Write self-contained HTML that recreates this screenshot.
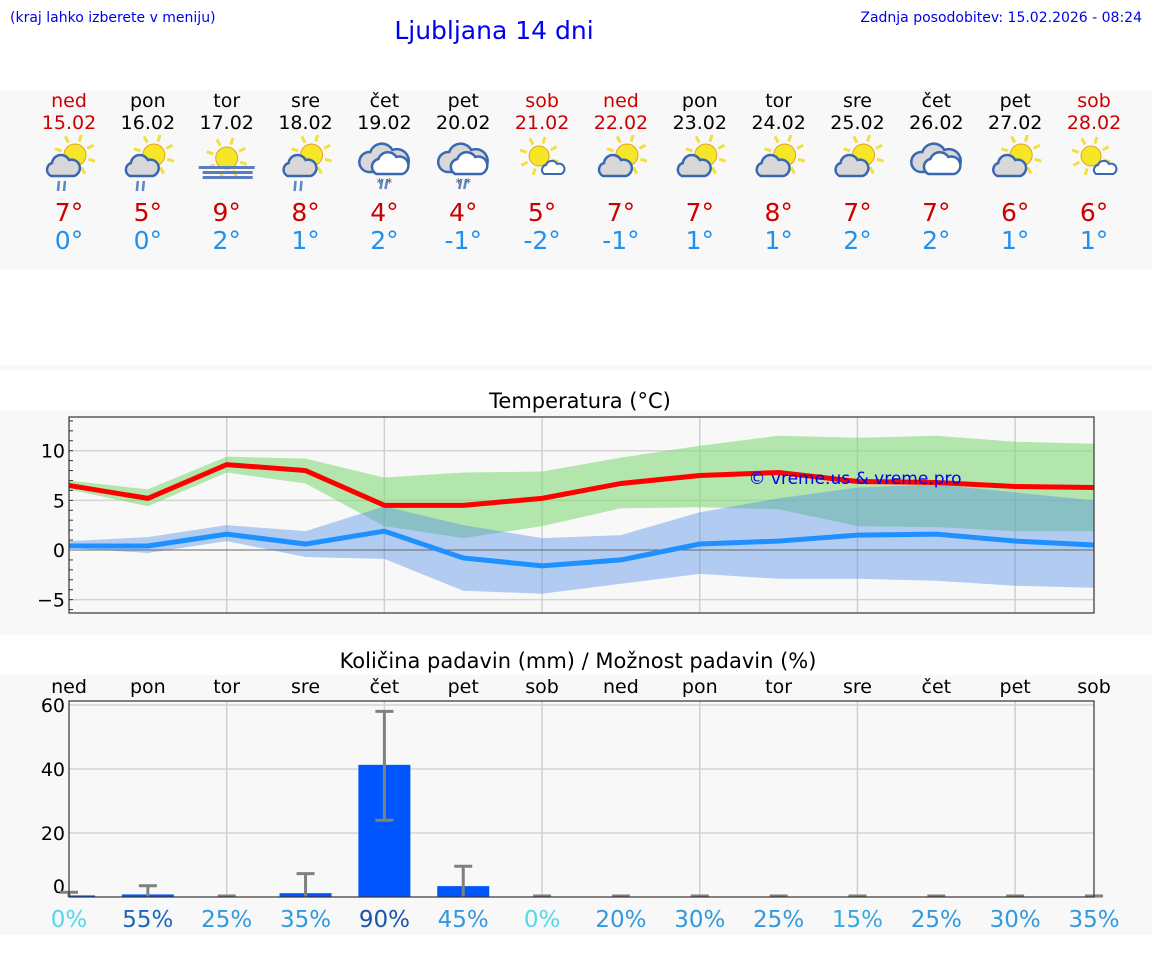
<!DOCTYPE html>
<html><head><meta charset="utf-8"><style>
body{margin:0;background:#fff;width:1152px;height:975px;overflow:hidden;font-family:"Liberation Sans","DejaVu Sans",sans-serif}
svg{display:block}
</style></head><body>
<svg id="s" width="1152" height="975" xmlns="http://www.w3.org/2000/svg" font-family="DejaVu Sans, Liberation Sans, sans-serif">
<text x="10" y="22" font-size="14" fill="#0000ee">(kraj lahko izberete v meniju)</text>
<text x="494" y="39" font-size="25" fill="#0000ee" text-anchor="middle">Ljubljana 14 dni</text>
<text x="1142" y="22" font-size="14" fill="#0000ee" text-anchor="end">Zadnja posodobitev: 15.02.2026 - 08:24</text>
<rect x="0" y="90" width="1152" height="180" fill="#f8f8f8"/>
<rect x="0" y="365" width="1152" height="5" fill="#f8f8f8"/>
<rect x="0" y="410" width="1152" height="225" fill="#f8f8f8"/>
<rect x="0" y="675" width="1152" height="260" fill="#f8f8f8"/>
<text x="580" y="408" font-size="21" text-anchor="middle">Temperatura (°C)</text>
<text x="578" y="668" font-size="21" text-anchor="middle">Količina padavin (mm) / Možnost padavin (%)</text>
<g id="days"></g><g id="temp"></g><g id="prec"></g>
</svg>
<script>
const dayNames=["ned","pon","tor","sre","čet","pet","sob","ned","pon","tor","sre","čet","pet","sob"];
const dates=["15.02","16.02","17.02","18.02","19.02","20.02","21.02","22.02","23.02","24.02","25.02","26.02","27.02","28.02"];
const icons=["rain","rain","fog","rain","snow","snow","sun2","sun","sun","sun","sun","cloud","sun","sun2"];
const hiLabels=[7,5,9,8,4,4,5,7,7,8,7,7,6,6];
const loLabels=[0,0,2,1,2,-1,-2,-1,1,1,2,2,1,1];
const tMax=[6.5,5.2,8.6,8.0,4.5,4.5,5.2,6.7,7.5,7.8,6.9,6.8,6.4,6.3];
const tMaxHi=[7.0,6.1,9.4,9.2,7.3,7.8,7.9,9.3,10.5,11.5,11.3,11.5,10.9,10.7];
const tMaxLo=[6.1,4.4,7.8,6.7,2.4,1.2,2.4,4.2,4.3,4.1,2.4,2.3,1.9,1.9];
const tMin=[0.4,0.4,1.6,0.6,1.9,-0.8,-1.6,-1.0,0.6,0.9,1.5,1.6,0.9,0.5];
const tMinHi=[0.9,1.3,2.5,1.9,4.4,2.5,1.2,1.5,3.8,5.2,6.3,6.6,5.8,5.0];
const tMinLo=[0.2,-0.3,0.9,-0.7,-0.9,-4.1,-4.4,-3.4,-2.4,-2.9,-2.9,-3.1,-3.6,-3.8];
const tTicks=[-5,0,5,10];
const precip=[0.5,0.8,0,1.2,41.3,3.4,0,0,0,0,0,0,0,0];
const precErrHi=[1.5,3.5,0,7.3,58,9.6,0,0,0,0,0,0,0,0];
const precErrLo=[0,0,0,0,24,0,0,0,0,0,0,0,0,0];
const pTicks=[0,20,40,60];
const chance=[0,55,25,35,90,45,0,20,30,25,15,25,30,35];

const NS="http://www.w3.org/2000/svg";
function mk(p,t,a){const e=document.createElementNS(NS,t);for(const k in a)e.setAttribute(k,a[k]);p.appendChild(e);return e;}
const X0=69,X1=1094;
const xs=i=>X0+i*(X1-X0)/13;
const ty=v=>550-v*9.93;
const py=v=>897-v*3.2;
const red=i=>(i==0||i==6||i==7||i==13);

const gd=document.getElementById('days');
dayNames.forEach((d,i)=>{
  const cx=69+i*78.85;
  let t=mk(gd,'text',{x:cx,y:107,'font-size':19,'text-anchor':'middle',fill:red(i)?'#cc0000':'#000'});t.textContent=d;
  
  t=mk(gd,'text',{x:cx,y:129,'font-size':19,'text-anchor':'middle',fill:red(i)?'#cc0000':'#000'});t.textContent=dates[i];
  
  const g=mk(gd,'g',{transform:`translate(${cx},160)`});
  
  const ic=icons[i];
  const sun=(sx,sy,r)=>{for(let k=0;k<8;k++){const a=k*Math.PI/4+0.3;mk(g,'line',{x1:sx+Math.cos(a)*(r+3),y1:sy+Math.sin(a)*(r+3),x2:sx+Math.cos(a)*(r+10),y2:sy+Math.sin(a)*(r+10),stroke:'#f0e040','stroke-width':3});}mk(g,'circle',{cx:sx,cy:sy,r:r,fill:'#f5e628',stroke:'#e8a020','stroke-width':1});};
  const cloud=()=>{mk(g,'path',{d:'M-18,16 a7 7 0 0 1 1,-13 a9 9 0 0 1 17,-3 a8 8 0 0 1 5,16 z',fill:'#d8d8d8',stroke:'#3a68b0','stroke-width':2.5});};
  const big=()=>{mk(g,'path',{d:'M-16,12 a10 10 0 0 1 2,-20 a12 12 0 0 1 22,-2 a10 10 0 0 1 9,22 z',fill:'#d8d8d8',stroke:'#3a68b0','stroke-width':2.5});mk(g,'path',{d:'M-8,14 a8 8 0 0 1 2,-15 a10 10 0 0 1 18,-2 a8 8 0 0 1 6,17 z',fill:'#fff',stroke:'#3a68b0','stroke-width':2.5});};
  if(ic=='rain'){sun(6,-5,11);cloud();mk(g,'line',{x1:-10,y1:21,x2:-11,y2:31,stroke:'#5a88c8','stroke-width':2.5});mk(g,'line',{x1:-4,y1:21,x2:-5,y2:31,stroke:'#5a88c8','stroke-width':2.5});}
  else if(ic=='fog'){sun(0,-2,11);mk(g,'rect',{x:-28,y:6,width:56,height:3,fill:'#5a7ec0'});mk(g,'rect',{x:-24,y:11,width:50,height:3,fill:'#5a7ec0'});mk(g,'rect',{x:-24,y:16,width:50,height:3,fill:'#5a7ec0'});}
  else if(ic=='snow'){big();mk(g,'line',{x1:-2,y1:19,x2:-4,y2:29,stroke:'#5a88c8','stroke-width':2.5});mk(g,'line',{x1:3,y1:19,x2:1,y2:29,stroke:'#5a88c8','stroke-width':2.5});let t2=mk(g,'text',{x:0,y:27,'font-size':12,'text-anchor':'middle',fill:'#555'});t2.textContent='*     *';}
  else if(ic=='cloud'){big();}
  else if(ic=='sun2'){sun(-3,-4,10);mk(g,'path',{d:'M2,14 a5 5 0 0 1 2,-9 a6 6 0 0 1 11,-1 a5 5 0 0 1 4,10 z',fill:'#fff',stroke:'#3a68b0','stroke-width':2});}
  else {sun(6,-5,11);cloud();}
  t=mk(gd,'text',{x:cx,y:221,'font-size':25,'text-anchor':'middle',fill:'#cc0000'});t.textContent=hiLabels[i]+'°';
  
  t=mk(gd,'text',{x:cx,y:249,'font-size':25,'text-anchor':'middle',fill:'#2090f0'});t.textContent=loLabels[i]+'°';
  
});

const gt=document.getElementById('temp');
const tf=mk(gt,'rect',{x:X0,y:417,width:X1-X0,height:196,fill:'#f8f8f8'});

tTicks.forEach(v=>{if(v!==0)mk(gt,'line',{x1:X0,x2:X1,y1:ty(v),y2:ty(v),stroke:'#d4d4d4','stroke-width':1.5});
  const t=mk(gt,'text',{x:X0-4,y:ty(v)+7,'font-size':19,'text-anchor':'end'});t.textContent=v<0?'−'+(-v):v;
  });
for(let v=-6;v<=13;v++)mk(gt,'line',{x1:X0,x2:X0+4,y1:ty(v),y2:ty(v),stroke:'#333','stroke-width':1});
for(let i=2;i<13;i+=2)mk(gt,'line',{x1:xs(i),x2:xs(i),y1:417,y2:613,stroke:'#d0d0d0','stroke-width':1.5});
const band=(hi,lo,col,name)=>{let d='M'+hi.map((v,i)=>xs(i)+','+ty(v)).join(' L')+' L'+lo.map((v,i)=>xs(i)+','+ty(v)).reverse().join(' L')+'Z';
  const p=mk(gt,'path',{d:d,fill:col});};
band(tMaxHi,tMaxLo,'rgba(120,215,110,0.55)','max-temp-range');
band(tMinHi,tMinLo,'rgba(80,140,230,0.42)','min-temp-range');
mk(gt,'line',{x1:X0,x2:X1,y1:ty(0),y2:ty(0),stroke:'#666','stroke-width':1});
const line=(a,col,name)=>{const p=mk(gt,'polyline',{points:a.map((v,i)=>xs(i)+','+ty(v)).join(' '),fill:'none',stroke:col,'stroke-width':5});};
line(tMin,'#1e90ff','min-temp-line');line(tMax,'#ff0000','max-temp-line');
let wm=mk(gt,'text',{x:855,y:484,'font-size':17,'text-anchor':'middle',fill:'#0000ee'});wm.textContent='© vreme.us & vreme.pro';

mk(gt,'rect',{x:X0,y:417,width:X1-X0,height:196,fill:'none',stroke:'#333','stroke-width':1.2});

const gp=document.getElementById('prec');
const pf=mk(gp,'rect',{x:X0,y:701,width:X1-X0,height:196,fill:'#f8f8f8'});

pTicks.forEach(v=>{if(v>0)mk(gp,'line',{x1:X0,x2:X1,y1:py(v),y2:py(v),stroke:'#d4d4d4','stroke-width':1.5});
  const t=mk(gp,'text',{x:X0-4,y:py(v)+(v==0?-4:7),'font-size':19,'text-anchor':'end'});t.textContent=v;
  });
for(let i=2;i<13;i+=2)mk(gp,'line',{x1:xs(i),x2:xs(i),y1:701,y2:897,stroke:'#d0d0d0','stroke-width':1.5});
precip.forEach((v,i)=>{
  if(v>0){const x=Math.max(X0,xs(i)-26),w=Math.min(xs(i)+26,X1)-x;
    const b=mk(gp,'rect',{x:x,y:py(v),width:w,height:897-py(v),fill:'#0055ff'});
    }
  const eg=mk(gp,'g',{stroke:'#808080','stroke-width':3});
  
  if(precErrHi[i]>0){mk(eg,'line',{x1:xs(i),x2:xs(i),y1:py(precErrHi[i]),y2:py(precErrLo[i])});
    mk(eg,'line',{x1:xs(i)-9,x2:xs(i)+9,y1:py(precErrHi[i]),y2:py(precErrHi[i])});
    if(precErrLo[i]>0)mk(eg,'line',{x1:xs(i)-9,x2:xs(i)+9,y1:py(precErrLo[i]),y2:py(precErrLo[i])});}
  else mk(eg,'line',{x1:xs(i)-9,x2:xs(i)+9,y1:896,y2:896});
  let t=mk(gp,'text',{x:xs(i),y:693,'font-size':19,'text-anchor':'middle'});t.textContent=dayNames[i];
  
  const c=chance[i];const col=c==0?'#55d8ea':c>=90?'#1a55a8':c>=55?'#1c66bb':c<=15?'#3aa8e0':'#3399dd';
  t=mk(gp,'text',{x:xs(i),y:927,'font-size':23,'text-anchor':'middle',fill:col});t.textContent=c+'%';
  
});
mk(gp,'rect',{x:X0,y:701,width:X1-X0,height:196,fill:'none',stroke:'#333','stroke-width':1.2});
</script>
</body></html>
